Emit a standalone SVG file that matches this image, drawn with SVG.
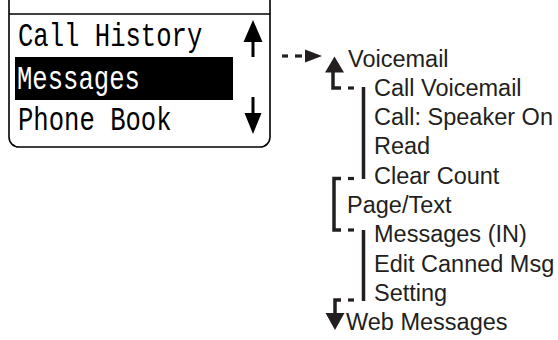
<svg xmlns="http://www.w3.org/2000/svg" width="558" height="340" viewBox="0 0 558 340">
<style>
.mono{font-family:"Liberation Mono","Courier New",monospace;font-size:25.6px;fill:#000}
.lbl{font-family:"Liberation Sans",Arial,sans-serif;font-size:23.5px;fill:#231f20}
.ln{stroke:#231f20;stroke-width:3.5;fill:none}
.ds{stroke:#231f20;stroke-width:3.2;fill:none}
.hd{fill:#231f20}
</style>
<rect width="558" height="340" fill="#fff"/>
<g id="screen">
<path d="M9,0 V137 A10,10 0 0 0 19,147 H260 A10,10 0 0 0 270,137 V0" fill="none" stroke="#000" stroke-width="1.6"/>
<line x1="9" y1="14" x2="270" y2="14" stroke="#000" stroke-width="1.6"/>
<rect x="15" y="57" width="218" height="43" fill="#000"/>
<text class="mono" transform="translate(18,46) scale(1,1.33)">Call History</text>
<text class="mono" transform="translate(17,89) scale(1,1.33)" style="fill:#fff">Messages</text>
<text class="mono" transform="translate(18,130) scale(1,1.33)">Phone Book</text>
<line x1="253" y1="40" x2="253" y2="57" stroke="#000" stroke-width="3"/>
<polygon points="243.5,42 253,20 262.5,42" fill="#000"/>
<line x1="253" y1="97" x2="253" y2="115" stroke="#000" stroke-width="3"/>
<polygon points="244.5,113 253,134 261.5,113" fill="#000"/>
</g>
<g id="voicemail"><text class="lbl" x="348" y="66.5">Voicemail</text></g>
<g id="call-voicemail"><text class="lbl" x="374" y="95.5">Call Voicemail</text></g>
<g id="call-speaker-on"><text class="lbl" x="374" y="124.5">Call: Speaker On</text></g>
<g id="read"><text class="lbl" x="374" y="154">Read</text></g>
<g id="clear-count"><text class="lbl" x="374" y="183.5">Clear Count</text></g>
<g id="page-text"><text class="lbl" x="347" y="213">Page/Text</text></g>
<g id="messages-in"><text class="lbl" x="374" y="242">Messages (IN)</text></g>
<g id="edit-canned-msg"><text class="lbl" x="374" y="271.5">Edit Canned Msg</text></g>
<g id="setting"><text class="lbl" x="374" y="300.5">Setting</text></g>
<g id="web-messages"><text class="lbl" x="346" y="330">Web Messages</text></g>
<g id="connectors">
<line class="ds" x1="282" y1="56" x2="288" y2="56"/>
<line class="ds" x1="295" y1="56" x2="302" y2="56"/>
<polygon class="hd" points="305,49.5 322,56 305,62.5"/>
<polygon class="hd" points="325,72.5 334.5,56.5 344,72.5"/>
<polyline class="ln" points="333,71 333,88 341,88"/>
<line class="ds" x1="348" y1="88" x2="354" y2="88"/>
<line class="ln" x1="363.5" y1="87" x2="363.5" y2="179"/>
<line class="ds" x1="348" y1="178.5" x2="354" y2="178.5"/>
<polyline class="ln" points="341,178.5 334,178.5 334,230 341,230"/>
<line class="ds" x1="348" y1="230" x2="354" y2="230"/>
<line class="ln" x1="363.5" y1="230" x2="363.5" y2="301"/>
<line class="ds" x1="348" y1="300" x2="354" y2="300"/>
<polyline class="ln" points="341,300 335,300 335,315"/>
<polygon class="hd" points="325.5,313 344.5,313 335,330"/>
</g>
</svg>
